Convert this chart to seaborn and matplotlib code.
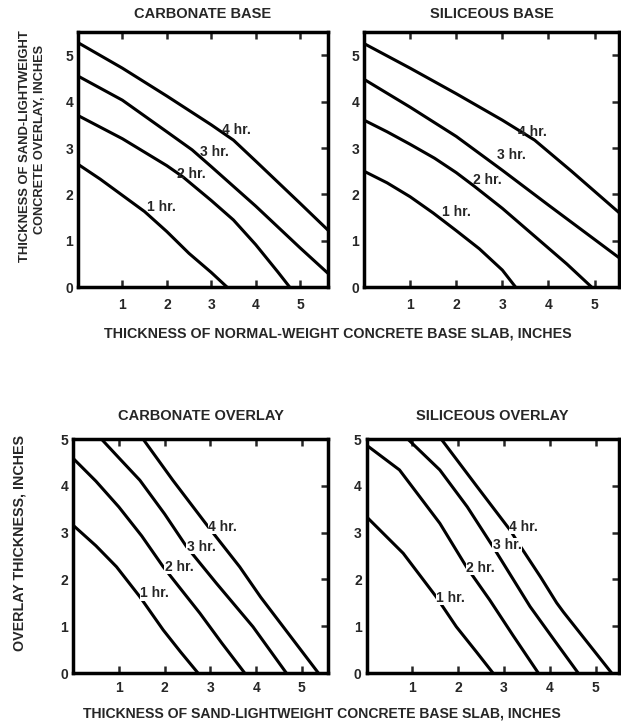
import pandas as pd
import matplotlib.pyplot as plt
import seaborn as sns

# Fire rating curves
ratings = ['1 hr.', '2 hr.', '3 hr.', '4 hr.']
titles = ['CARBONATE BASE', 'SILICEOUS BASE', 'CARBONATE OVERLAY', 'SILICEOUS OVERLAY']

# carbonate base (top left): base slab thickness vs overlay thickness
carb_base_x = [[0, 0.5, 1, 1.5, 2, 2.5, 3, 3.36],
               [0, 1, 2, 2.36, 3, 3.5, 4, 4.5, 4.77],
               [0, 1, 2, 2.57, 3, 4, 5, 5.63],
               [0, 1, 2, 3, 3.5, 4, 5, 5.63]]
carb_base_y = [[2.65, 2.33, 1.98, 1.63, 1.2, 0.73, 0.32, 0],
               [3.70, 3.20, 2.62, 2.38, 1.87, 1.45, 0.92, 0.33, 0],
               [4.55, 4.03, 3.35, 2.96, 2.6, 1.75, 0.85, 0.30],
               [5.27, 4.72, 4.12, 3.5, 3.17, 2.72, 1.81, 1.23]]

# siliceous base (top right)
sil_base_x = [[0, 0.5, 1, 1.5, 2, 2.5, 3, 3.29],
              [0, 0.5, 1, 1.53, 2, 2.4, 3, 3.7, 4.4, 4.94],
              [0, 1, 2, 3, 4, 5, 5.54],
              [0, 1, 2, 3, 3.7, 4.5, 5.54]]
sil_base_y = [[2.50, 2.25, 1.95, 1.6, 1.22, 0.83, 0.37, 0],
              [3.60, 3.35, 3.08, 2.78, 2.47, 2.17, 1.7, 1.1, 0.5, 0],
              [4.48, 3.88, 3.25, 2.52, 1.77, 1.03, 0.63],
              [5.25, 4.72, 4.17, 3.6, 3.17, 2.5, 1.60]]

# carbonate overlay (bottom left): sand-lightweight base slab vs overlay
carb_over_x = [[0, 0.5, 0.95, 1.46, 1.97, 2.35, 2.73],
               [0, 0.5, 1, 1.5, 1.97, 2.77, 3.25, 3.75],
               [0.62, 1.0, 1.46, 2.0, 2.48, 3.13, 3.93, 4.66],
               [1.53, 2.18, 2.95, 3.64, 4.1, 4.59, 5.36]]
carb_over_y = [[3.16, 2.72, 2.27, 1.63, 0.92, 0.45, 0],
               [4.59, 4.1, 3.55, 2.93, 2.27, 1.28, 0.64, 0],
               [5, 4.6, 4.12, 3.4, 2.70, 1.92, 0.99, 0],
               [5, 4.12, 3.13, 2.27, 1.62, 0.99, 0]]

# siliceous overlay (bottom right)
sil_over_x = [[0, 0.8, 1.52, 1.96, 2.4, 2.76],
              [0, 0.72, 1.6, 2.18, 2.69, 3.2, 3.75],
              [0.90, 1.60, 2.2, 2.76, 3.57, 4.1, 4.62],
              [1.63, 2.4, 3.13, 3.35, 3.8, 4.15, 4.3, 5.35]]
sil_over_y = [[3.34, 2.56, 1.63, 0.99, 0.45, 0],
              [4.87, 4.34, 3.20, 2.27, 1.56, 0.8, 0],
              [5, 4.34, 3.55, 2.70, 1.42, 0.7, 0],
              [5, 4.0, 3.06, 2.72, 2.05, 1.5, 1.3, 0]]

panel_x = [carb_base_x, sil_base_x, carb_over_x, sil_over_x]
panel_y = [carb_base_y, sil_base_y, carb_over_y, sil_over_y]

rows = []
for p, (xs, ys) in enumerate(zip(panel_x, panel_y)):
    for r, (x, y) in enumerate(zip(xs, ys)):
        for a, b in zip(x, y):
            rows.append({'panel': p, 'rating': ratings[r], 'base': a, 'overlay': b})
df = pd.DataFrame(rows)

sns.set_style('ticks')
plt.rcParams['font.family'] = ['Liberation Sans', 'DejaVu Sans']
plt.rcParams['font.weight'] = 'bold'
plt.rcParams['axes.linewidth'] = 2.5
plt.rcParams['axes.edgecolor'] = 'black'

fig = plt.figure(figsize=(6.21, 7.28), dpi=100)

# axes boxes in figure fractions
boxes = [[0.1256, 0.6054, 0.4026, 0.3507],
         [0.5862, 0.6054, 0.4106, 0.3507],
         [0.1176, 0.0755, 0.4106, 0.3214],
         [0.5902, 0.0755, 0.4058, 0.3214]]
xmax = [5.63, 5.53, 5.57, 5.5]
ymax = [5.5, 5.5, 5.0, 5.0]

# label anchors (left edge, middle) for 1..4 hr in each panel
label_pos = [[(1.56, 1.73), (2.24, 2.44), (2.74, 2.92), (3.24, 3.39)],
             [(1.69, 1.63), (2.37, 2.32), (2.88, 2.85), (3.34, 3.35)],
             [(1.46, 1.70), (2.0, 2.27), (2.48, 2.70), (2.95, 3.13)],
             [(1.52, 1.60), (2.18, 2.24), (2.75, 2.74), (3.11, 3.13)]]

for p in range(4):
    ax = fig.add_axes(boxes[p])
    sub = df[df['panel'] == p]
    sns.lineplot(data=sub, x='base', y='overlay', units='rating', estimator=None,
                 color='black', lw=2.2, sort=False, ax=ax, legend=False)
    top_row = p < 2
    for (lx, ly), lab in zip(label_pos[p], ratings):
        box = None if top_row else dict(fc='white', ec='none', pad=0.1)
        ax.text(lx, ly, lab, fontsize=10, fontweight='bold', ha='left', va='center',
                zorder=5, bbox=box)
    ax.set_xlim(0, xmax[p])
    ax.set_ylim(0, ymax[p])
    ax.set_xticks([1, 2, 3, 4, 5])
    ax.set_yticks([0, 1, 2, 3, 4, 5])
    ax.set_xlabel('')
    ax.set_ylabel('')
    ax.tick_params(direction='in', length=5, width=1.8, top=True, right=True,
                   left=False, labelsize=10)
    ax.tick_params(axis='x', pad=8 if top_row else 6)
    ax.tick_params(axis='y', pad=3.5)
    for t in ax.get_xticklabels() + ax.get_yticklabels():
        t.set_fontweight('bold')
    ax.set_title(titles[p], fontsize=10.5, fontweight='bold', pad=10 if top_row else 14)
    for s in ax.spines.values():
        s.set_visible(True)
        s.set_linewidth(2.5)

W, H = 621, 728
fig.text(337.5 / W, 1 - 333.5 / H, 'THICKNESS OF NORMAL-WEIGHT CONCRETE BASE SLAB, INCHES',
         ha='center', va='center', fontsize=10.3, fontweight='bold')
fig.text(322 / W, 1 - 714 / H, 'THICKNESS OF SAND-LIGHTWEIGHT CONCRETE BASE SLAB, INCHES',
         ha='center', va='center', fontsize=10.1, fontweight='bold')
fig.text(25 / W, 1 - 146.5 / H, 'THICKNESS OF SAND-LIGHTWEIGHT', rotation=90,
         ha='center', va='center', fontsize=9.4, fontweight='bold')
fig.text(40.5 / W, 1 - 139 / H, 'CONCRETE OVERLAY, INCHES', rotation=90,
         ha='center', va='center', fontsize=9.2, fontweight='bold')
fig.text(19.5 / W, 1 - 543 / H, 'OVERLAY THICKNESS, INCHES', rotation=90,
         ha='center', va='center', fontsize=10.3, fontweight='bold')

plt.savefig('out.png', dpi=100)
